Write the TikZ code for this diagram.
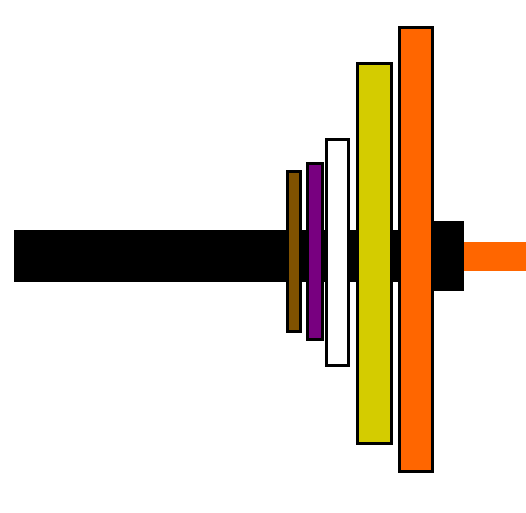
\documentclass[tikz,border=0pt]{standalone}
\definecolor{cbrown}{RGB}{128,82,0}
\definecolor{cpurple}{RGB}{120,0,128}
\definecolor{cyellow}{RGB}{212,204,0}
\definecolor{corange}{RGB}{255,102,0}
\tikzset{
  plate/.style={draw=black, line width=3pt, rectangle, inner sep=0pt},
  solid/.style={rectangle, inner sep=0pt, draw=none},
}
\begin{document}
\begin{tikzpicture}[x=1pt,y=-1pt]
\useasboundingbox (0,0) rectangle (526,512);
\node[solid, fill=black, minimum width=420pt, minimum height=52pt] (shaft) at (224,256) {};
\node[solid, fill=black, minimum width=30pt, minimum height=70pt] (hub) at (449,256) {};
\node[solid, fill=corange, minimum width=62pt, minimum height=29pt] (tip) at (495,256.5) {};
\node[plate, fill=cbrown, minimum width=13pt, minimum height=160pt] (p1) at (294,251.5) {};
\node[plate, fill=cpurple, minimum width=15pt, minimum height=176pt] (p2) at (315,251.5) {};
\node[plate, fill=white, minimum width=22pt, minimum height=226pt] (p3) at (337.5,252.5) {};
\node[plate, fill=cyellow, minimum width=34pt, minimum height=380pt] (p4) at (374.5,253.5) {};
\node[plate, fill=corange, minimum width=33pt, minimum height=444pt] (p5) at (416,249.5) {};
\end{tikzpicture}
\end{document}
